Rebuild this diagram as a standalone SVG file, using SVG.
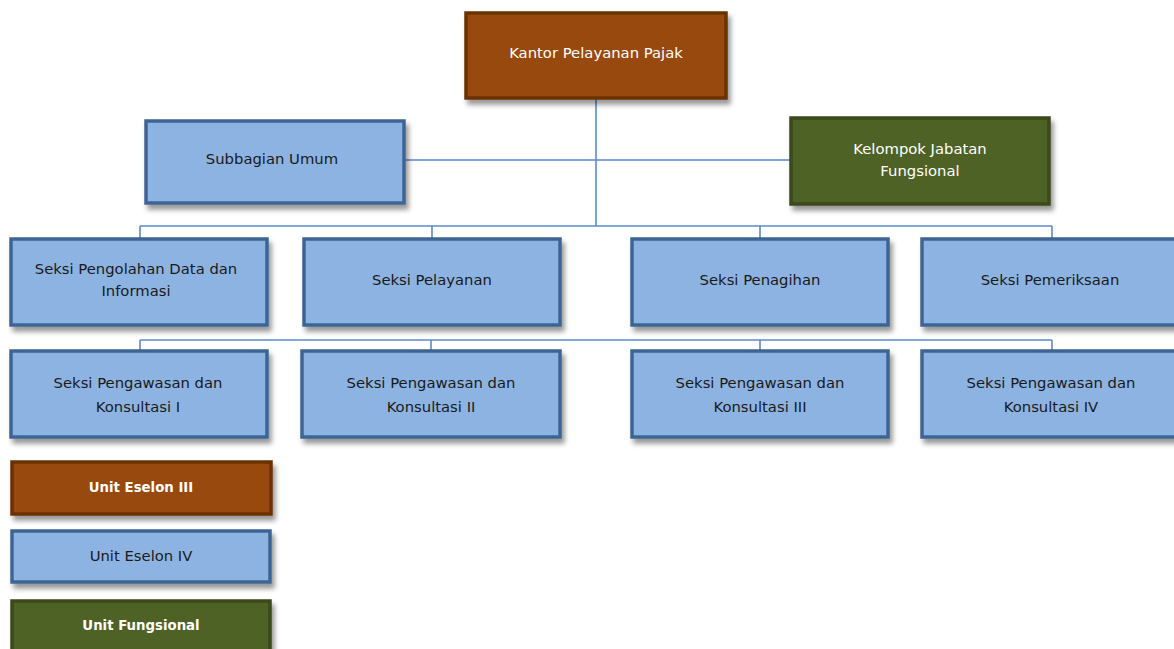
<svg xmlns="http://www.w3.org/2000/svg" width="1174" height="649" viewBox="0 0 1174 649">
<style>
.b{fill:#8db3e2;stroke:#3e6594;stroke-width:3.5;filter:url(#sh)}
.o{fill:#984807;stroke:#6a3304;stroke-width:3.5;filter:url(#sh)}
.g{fill:#4f6228;stroke:#3a481c;stroke-width:3.5;filter:url(#sh)}
text{font-family:"DejaVu Sans","Liberation Sans",sans-serif;font-size:14.8px;text-anchor:middle}
.td{fill:#1a1a1a}
.tw{fill:#ffffff}
.tb{font-weight:bold;font-size:13.3px}
.c{fill:none;stroke:#5b8bd0;stroke-width:1.6}
</style>
<defs>
<filter id="sh" x="-5%" y="-10%" width="115%" height="130%">
<feDropShadow dx="3" dy="5" stdDeviation="2.5" flood-color="#000" flood-opacity="0.4"/>
</filter>
</defs>
<rect width="1174" height="649" fill="#fff"/>
<g id="connectors">
<path class="c" d="M596 98V226M405 160H790M140 226H1052M140 226V239M432 226V239M760 226V239M1052 226V239"/>
<path class="c" d="M140 340H1052M140 340V351M431 340V351M760 340V351M1052 340V351"/>
</g>
<g id="kpp"><rect class="o" x="466" y="13" width="260" height="85"/><text class="tw" x="596" y="58">Kantor Pelayanan Pajak</text></g>
<g id="subbagian"><rect class="b" x="146" y="121" width="258" height="82"/><text class="td" x="272" y="164">Subbagian Umum</text></g>
<g id="kjf"><rect class="g" x="791" y="118" width="258" height="86"/><text class="tw" x="920" y="154">Kelompok Jabatan</text><text class="tw" x="920" y="176">Fungsional</text></g>
<g id="pdi"><rect class="b" x="11" y="239" width="256" height="86"/><text class="td" x="136" y="274">Seksi Pengolahan Data dan</text><text class="td" x="136" y="296">Informasi</text></g>
<g id="pelayanan"><rect class="b" x="304" y="239" width="256" height="86"/><text class="td" x="432" y="285">Seksi Pelayanan</text></g>
<g id="penagihan"><rect class="b" x="632" y="239" width="256" height="86"/><text class="td" x="760" y="285">Seksi Penagihan</text></g>
<g id="pemeriksaan"><rect class="b" x="922" y="239" width="258" height="86"/><text class="td" x="1050" y="285">Seksi Pemeriksaan</text></g>
<g id="wask1"><rect class="b" x="11" y="351" width="256" height="86"/><text class="td" x="138" y="388">Seksi Pengawasan dan</text><text class="td" x="138" y="412">Konsultasi I</text></g>
<g id="wask2"><rect class="b" x="302" y="351" width="258" height="86"/><text class="td" x="431" y="388">Seksi Pengawasan dan</text><text class="td" x="431" y="412">Konsultasi II</text></g>
<g id="wask3"><rect class="b" x="632" y="351" width="256" height="86"/><text class="td" x="760" y="388">Seksi Pengawasan dan</text><text class="td" x="760" y="412">Konsultasi III</text></g>
<g id="wask4"><rect class="b" x="922" y="351" width="258" height="86"/><text class="td" x="1051" y="388">Seksi Pengawasan dan</text><text class="td" x="1051" y="412">Konsultasi IV</text></g>
<g id="leg3"><rect class="o" x="12" y="462" width="259" height="52"/><text class="tw tb" x="141" y="492">Unit Eselon III</text></g>
<g id="leg4"><rect class="b" x="12" y="531" width="258" height="51"/><text class="td" x="141" y="561">Unit Eselon IV</text></g>
<g id="legf"><rect class="g" x="12" y="601" width="258" height="52"/><text class="tw tb" x="141" y="630">Unit Fungsional</text></g>
</svg>
